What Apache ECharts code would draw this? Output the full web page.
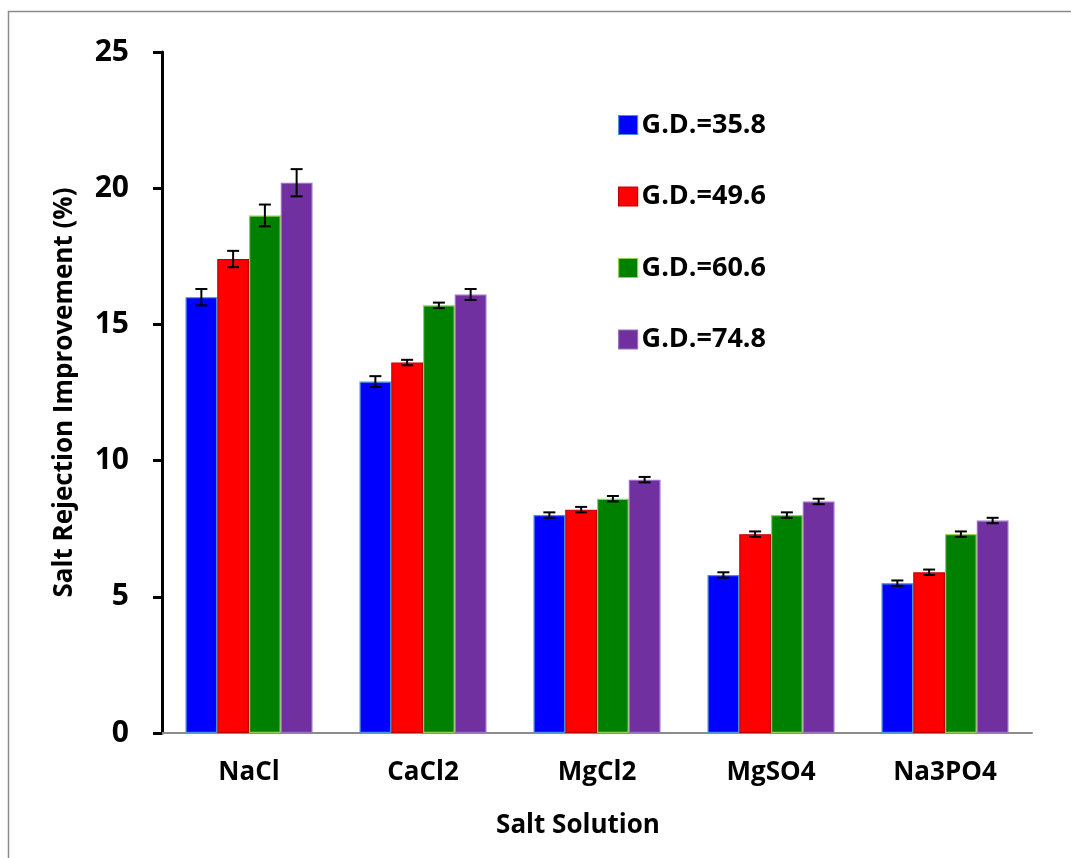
<!DOCTYPE html>
<html>
<head>
<meta charset="utf-8">
<script src="https://cdn.jsdelivr.net/npm/echarts@6/dist/echarts.min.js"></script>
<style>
  html, body { margin: 0; padding: 0; background: #fff; }
  #chart { width: 1071px; height: 858px; }
</style>
</head>
<body>
<div id="chart"></div>
<script>
// Salt solutions tested
const categories = ['NaCl', 'CaCl2', 'MgCl2', 'MgSO4', 'Na3PO4'];

// Salt rejection improvement (%) per grafting degree
const seriesNames = ['G.D.=35.8', 'G.D.=49.6', 'G.D.=60.6', 'G.D.=74.8'];
const gd358 = [16.0, 12.9, 8.0, 5.8, 5.5];
const gd496 = [17.4, 13.6, 8.2, 7.3, 5.9];
const gd606 = [19.0, 15.7, 8.6, 8.0, 7.3];
const gd748 = [20.2, 16.1, 9.3, 8.5, 7.8];

// Standard deviation (error bar half-length)
const err358 = [0.3, 0.2, 0.1, 0.1, 0.1];
const err496 = [0.3, 0.1, 0.1, 0.1, 0.1];
const err606 = [0.4, 0.1, 0.1, 0.1, 0.1];
const err748 = [0.5, 0.2, 0.1, 0.1, 0.1];

const yTicks = [0, 5, 10, 15, 20, 25];

const values = [gd358, gd496, gd606, gd748];
const errors = [err358, err496, err606, err748];
const fills = ['#0000ff', '#ff0000', '#008000', '#7030a0'];
const edges = ['#4a8fd8', '#c00000', '#92d050', '#9a70c0'];

const FONT = '"Open Sans", "Noto Sans", sans-serif';
const CAT_GAP = 0.27;

const chart = echarts.init(document.getElementById('chart'), null, { renderer: 'canvas' });

const barSeries = values.map((vals, i) => ({
  name: seriesNames[i],
  type: 'bar',
  data: vals,
  barGap: '0%',
  barCategoryGap: (CAT_GAP * 100) + '%',
  itemStyle: { color: fills[i], borderColor: edges[i], borderWidth: 1.2 },
  z: 2
}));

const errorSeries = values.map((vals, i) => ({
  name: seriesNames[i] + ' err',
  type: 'custom',
  data: vals.map((v, k) => [k, v, errors[i][k]]),
  z: 5,
  silent: true,
  renderItem: function (params, api) {
    const k = api.value(0);
    const v = api.value(1);
    const e = api.value(2);
    const band = api.size([1, 0])[0];
    const bw = band * (1 - CAT_GAP) / values.length;
    const center = api.coord([k, v]);
    const x = center[0] + (i - (values.length - 1) / 2) * bw;
    const top = api.coord([k, v + e])[1];
    const bot = api.coord([k, v - e])[1];
    const cap = 6;
    const style = { stroke: '#000', lineWidth: 2 };
    return {
      type: 'group',
      children: [
        { type: 'line', shape: { x1: x, y1: top, x2: x, y2: bot }, style: style },
        { type: 'line', shape: { x1: x - cap, y1: top, x2: x + cap, y2: top }, style: style },
        { type: 'line', shape: { x1: x - cap, y1: bot, x2: x + cap, y2: bot }, style: style }
      ]
    };
  }
}));

chart.setOption({
  backgroundColor: '#fff',
  animation: false,
  grid: { left: 162, right: 39, top: 52, bottom: 125, containLabel: false },
  legend: {
    data: seriesNames.map((n, i) => ({
      name: n,
      icon: 'rect',
      itemStyle: { color: fills[i], borderColor: edges[i], borderWidth: 1.2 }
    })),
    orient: 'vertical',
    left: 613,
    top: 105,
    itemWidth: 19,
    itemHeight: 19,
    itemGap: 41.5,
    textStyle: { fontFamily: FONT, fontWeight: 'bold', fontSize: 27, color: '#000', lineHeight: 30, padding: [0, 0, 0, -1] },
    selectedMode: false
  },
  xAxis: {
    type: 'category',
    data: categories,
    name: 'Salt Solution',
    nameLocation: 'middle',
    nameGap: 80,
    nameTextStyle: { fontFamily: FONT, fontWeight: 'bold', fontSize: 26, color: '#000', padding: [0, 38, 0, 0] },
    axisLine: { lineStyle: { color: '#8c8c8c', width: 2 } },
    axisTick: { show: false },
    axisLabel: { fontFamily: FONT, fontWeight: 'bold', fontSize: 26, color: '#000', margin: 27 }
  },
  yAxis: {
    type: 'value',
    min: yTicks[0],
    max: yTicks[yTicks.length - 1],
    interval: yTicks[1] - yTicks[0],
    name: 'Salt Rejection Improvement (%)',
    nameLocation: 'middle',
    nameGap: 84,
    nameRotate: 90,
    nameTextStyle: { fontFamily: FONT, fontWeight: 'bold', fontSize: 26, color: '#000' },
    axisLine: { show: true, lineStyle: { color: '#000', width: 3 } },
    axisTick: { show: true, inside: false, length: 9, lineStyle: { color: '#000', width: 3 } },
    axisLabel: { fontFamily: FONT, fontWeight: 'bold', fontSize: 30, color: '#000', margin: 33 },
    splitLine: { show: false }
  },
  graphic: [{
    type: 'rect',
    shape: { x: 8.5, y: 11.5, width: 1200, height: 1000 },
    style: { fill: 'none', stroke: '#8c8c8c', lineWidth: 1.5 },
    silent: true,
    z: -1
  }],
  series: barSeries.concat(errorSeries)
});
</script>
</body>
</html>
